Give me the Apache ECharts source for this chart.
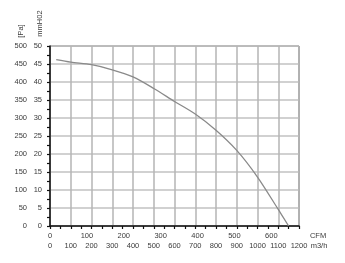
<!DOCTYPE html>
<html>
<head>
<meta charset="utf-8">
<script src="https://cdn.jsdelivr.net/npm/echarts@6/dist/echarts.min.js"></script>
<style>html,body{margin:0;padding:0;background:#fff;}#c{width:345px;height:263px;}</style>
</head>
<body>
<div id="c"></div>
<script>
// Data: air flow (m3/h) vs static pressure (Pa)
const flowM3h = [30, 100, 200, 300, 400, 500, 600, 700, 800, 900, 1000, 1100, 1150];
const pressurePa = [462, 455, 448, 434, 414, 382, 346, 311, 266, 210, 136, 46, 0];
// Axis ranges / tick steps
const paRange = [0, 500, 50];
const mmRange = [0, 50, 5];
const m3hRange = [0, 1200, 100];
const cfmRange = [0, 675, 100];
const unitLabels = { pa: '[Pa]', mm: 'mmH02', cfm: 'CFM', m3h: 'm3/h' };

const FONT = 'Liberation Sans, Arial, sans-serif';
const FS = 7.5;
const labelStyle = { color: '#3a3a3a', fontSize: FS, fontFamily: FONT };
const chart = echarts.init(document.getElementById('c'), null, { renderer: 'canvas' });

chart.setOption({
  animation: false,
  backgroundColor: '#fff',
  grid: { left: 50, right: 46, top: 46, bottom: 37, show: true, borderColor: '#555', borderWidth: 1 },
  xAxis: [
    {
      type: 'value', min: m3hRange[0], max: m3hRange[1], interval: m3hRange[2], position: 'bottom',
      axisLine: { show: true, onZero: false, lineStyle: { color: '#111', width: 1.5 } },
      axisTick: { show: true, length: 3, lineStyle: { color: '#111', width: 1.2 } },
      minorTick: { show: true, splitNumber: 2, length: 3, lineStyle: { color: '#111', width: 1.2 } },
      splitLine: { show: true, lineStyle: { color: '#b4b4b4', width: 1.5 } },
      axisLabel: Object.assign({ margin: 16, formatter: v => String(v) }, labelStyle)
    },
    {
      type: 'value', min: cfmRange[0], max: cfmRange[1], interval: cfmRange[2], position: 'bottom',
      axisLine: { show: false }, axisTick: { show: false }, splitLine: { show: false },
      axisLabel: Object.assign({ margin: 6, formatter: v => (v % 100 === 0 ? String(v) : '') }, labelStyle)
    }
  ],
  yAxis: [
    {
      type: 'value', min: paRange[0], max: paRange[1], interval: paRange[2], position: 'left',
      axisLine: { show: true, onZero: false, lineStyle: { color: '#111', width: 1.5 } },
      axisTick: { show: true, length: 3, lineStyle: { color: '#111', width: 1.2 } },
      minorTick: { show: true, splitNumber: 2, length: 3, lineStyle: { color: '#111', width: 1.2 } },
      splitLine: { show: true, lineStyle: { color: '#c2c2c2', width: 1.5 } },
      axisLabel: Object.assign({ margin: 23 }, labelStyle)
    },
    {
      type: 'value', min: mmRange[0], max: mmRange[1], interval: mmRange[2], position: 'left',
      axisLine: { show: false }, axisTick: { show: false }, splitLine: { show: false },
      axisLabel: Object.assign({ margin: 8 }, labelStyle)
    }
  ],
  graphic: [
    { type: 'text', x: 20.5, y: 31, rotation: Math.PI / 2, style: { text: unitLabels.pa, fill: '#3a3a3a', font: FS + 'px ' + FONT, align: 'center', verticalAlign: 'middle' } },
    { type: 'text', x: 39.5, y: 23.5, rotation: Math.PI / 2, style: { text: unitLabels.mm, fill: '#3a3a3a', font: FS + 'px ' + FONT, align: 'center', verticalAlign: 'middle' } },
    { type: 'text', x: 318, y: 236, style: { text: unitLabels.cfm, fill: '#3a3a3a', font: FS + 'px ' + FONT, align: 'center', verticalAlign: 'middle' } },
    { type: 'text', x: 319, y: 246, style: { text: unitLabels.m3h, fill: '#3a3a3a', font: FS + 'px ' + FONT, align: 'center', verticalAlign: 'middle' } }
  ],
  series: [{
    type: 'line', xAxisIndex: 0, yAxisIndex: 0, smooth: 0.3, symbol: 'none',
    lineStyle: { color: '#8a8a8a', width: 1.3 },
    data: flowM3h.map((f, i) => [f, pressurePa[i]])
  }]
});
</script>
</body>
</html>
